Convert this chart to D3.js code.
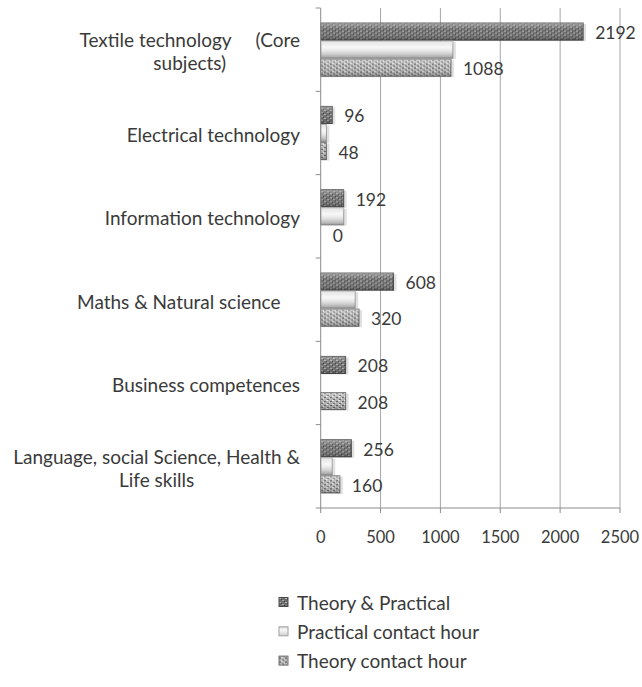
<!DOCTYPE html>
<html><head><meta charset="utf-8">
<script src="https://cdn.jsdelivr.net/npm/d3@7"></script>
<style>body{margin:0;background:#fff;} svg{display:block;font-family:Lato,"Open Sans",sans-serif;}</style>
</head><body><svg id="c" width="642" height="687"></svg>
<script>
const categories = ["Textile technology\u00a0\u00a0\u00a0\u00a0 (Core\nsubjects)","Electrical technology","Information technology","Maths & Natural science\u00a0\u00a0\u00a0\u00a0","Business competences","Language, social Science, Health &\nLife skills"];
const seriesNames = ["Theory & Practical","Practical contact hour","Theory contact hour"];
const theoryPractical = [2192,96,192,608,208,256];
const practicalHours = [1104,48,192,288,0,96];
const theoryHours = [1088,48,0,320,208,160];
const xTicks = [0,500,1000,1500,2000,2500];

const svg = d3.select("#c");
const defs = svg.append("defs");
const pA = defs.append("pattern").attr("id","pA").attr("width",6).attr("height",4).attr("patternUnits","userSpaceOnUse");
pA.append("rect").attr("width",6).attr("height",4).attr("fill","#6e6e6e");
pA.append("rect").attr("x",0).attr("y",0).attr("width",2).attr("height",1).attr("fill","#b5b5b5");
pA.append("rect").attr("x",3).attr("y",2).attr("width",2).attr("height",1).attr("fill","#a8a8a8");
pA.append("rect").attr("x",2).attr("y",1).attr("width",1).attr("height",1).attr("fill","#3e3e3e");
pA.append("rect").attr("x",5).attr("y",3).attr("width",1).attr("height",1).attr("fill","#3e3e3e");
const pC = defs.append("pattern").attr("id","pC").attr("width",6).attr("height",4).attr("patternUnits","userSpaceOnUse");
pC.append("rect").attr("width",6).attr("height",4).attr("fill","#b4b4b4");
pC.append("rect").attr("x",0).attr("y",1).attr("width",2).attr("height",1).attr("fill","#555");
pC.append("rect").attr("x",3).attr("y",3).attr("width",2).attr("height",1).attr("fill","#606060");
pC.append("rect").attr("x",2).attr("y",0).attr("width",2).attr("height",1).attr("fill","#eee");
pC.append("rect").attr("x",5).attr("y",2).attr("width",1).attr("height",1).attr("fill","#e6e6e6");
const gB = defs.append("linearGradient").attr("id","gB").attr("x1",0).attr("y1",0).attr("x2",0).attr("y2",1);
gB.append("stop").attr("offset","0").attr("stop-color","#d8d8d8");
gB.append("stop").attr("offset","0.35").attr("stop-color","#f8f8f8");
gB.append("stop").attr("offset","1").attr("stop-color","#cfcfcf");
const gS = defs.append("linearGradient").attr("id","gS").attr("x1",0).attr("y1",0).attr("x2",0).attr("y2",1);
gS.append("stop").attr("offset","0").attr("stop-color","#fff").attr("stop-opacity",0.35);
gS.append("stop").attr("offset","0.4").attr("stop-color","#fff").attr("stop-opacity",0);
gS.append("stop").attr("offset","1").attr("stop-color","#000").attr("stop-opacity",0.25);
const fills = ["url(#pA)","url(#gB)","url(#pC)"];
const strokes = ["#4a4a4a","#a0a0a0","#6e6e6e"];

const x = d3.scaleLinear().domain([0,2500]).range([320.7,620]);
const y0 = d3.scaleBand().domain(categories).range([8,508]).paddingInner(0.35).paddingOuter(0.175);
const y1 = d3.scaleBand().domain(seriesNames).range([0,y0.bandwidth()]);
const textColor = "#3a3a3a";

svg.append("g").selectAll("line").data(xTicks.slice(1)).join("line")
  .attr("x1",d=>x(d)).attr("x2",d=>x(d)).attr("y1",8).attr("y2",508)
  .attr("stroke","#a6a6a6").attr("stroke-width",1);

const data = categories.map((c,i)=>({c, vals:[theoryPractical[i],practicalHours[i],theoryHours[i]]}));
const groups = svg.append("g").selectAll("g").data(data).join("g")
  .attr("transform",d=>`translate(0,${y0(d.c)})`);
groups.each(function(d){
  const g = d3.select(this);
  d.vals.forEach((v,k)=>{
    if(v<=0) return;
    const yy = y1(seriesNames[k]);
    const h = y1.bandwidth();
    g.append("rect").attr("x",x(0)+1).attr("y",yy+1.5).attr("width",x(v)-x(0)+2).attr("height",h-1).attr("fill","#000").attr("opacity",0.12);
    g.append("rect").attr("x",x(0)).attr("y",yy+0.5).attr("width",x(v)-x(0)).attr("height",h-1)
      .attr("fill",fills[k]).attr("stroke",strokes[k]).attr("stroke-width",1);
    g.append("rect").attr("x",x(0)).attr("y",yy+0.5).attr("width",x(v)-x(0)).attr("height",h-1).attr("fill","url(#gS)");
  });
  [0,2].forEach(k=>{
    g.append("text").attr("x",x(d.vals[k])+12).attr("y",y1(seriesNames[k])+y1.bandwidth()/2+1)
      .attr("dominant-baseline","central").attr("font-size",17.5).attr("fill",textColor).text(d.vals[k]);
  });
});

svg.append("line").attr("x1",x(0)).attr("x2",x(0)).attr("y1",8).attr("y2",508).attr("stroke","#8c8c8c");
svg.append("line").attr("x1",x(0)).attr("x2",x(2500)).attr("y1",508).attr("y2",508).attr("stroke","#8c8c8c");
svg.append("g").selectAll("line").data(d3.range(categories.length+1)).join("line")
  .attr("x1",x(0)-5).attr("x2",x(0)).attr("y1",i=>8+i*y0.step()).attr("y2",i=>8+i*y0.step()).attr("stroke","#8c8c8c");
svg.append("g").selectAll("line").data(xTicks).join("line")
  .attr("x1",d=>x(d)).attr("x2",d=>x(d)).attr("y1",508).attr("y2",513).attr("stroke","#8c8c8c");
svg.append("g").selectAll("text").data(xTicks).join("text")
  .attr("x",d=>x(d)).attr("y",537).attr("text-anchor","middle").attr("dominant-baseline","central")
  .attr("font-size",16.5).attr("fill",textColor).text(d=>d);

const right = 300, lh = 23;
categories.forEach(c=>{
  const lines = c.split("\n");
  const cy = y0(c) + y0.bandwidth()/2 + 1.5;
  const g = svg.append("g");
  const ts = lines.map((l,i)=>g.append("text").attr("y",cy + (i-(lines.length-1)/2)*lh)
    .attr("dominant-baseline","central").attr("font-size",19).attr("fill",textColor)
    .style("white-space","pre").text(l));
  const widths = ts.map(t=>t.node().getComputedTextLength());
  const mw = d3.max(widths);
  ts.forEach((t,i)=>t.attr("x",right - mw/2).attr("text-anchor","middle"));
});

const leg = svg.append("g").selectAll("g").data(seriesNames).join("g")
  .attr("transform",(d,i)=>`translate(279,${602+i*29.3})`);
leg.append("rect").attr("x",0).attr("y",-4.5).attr("width",9).attr("height",9)
  .attr("fill",(d,i)=>fills[i]).attr("stroke",(d,i)=>strokes[i]);
leg.append("text").attr("x",18).attr("y",0).attr("dominant-baseline","central")
  .attr("font-size",19).attr("fill",textColor).text(d=>d);
</script></body></html>
